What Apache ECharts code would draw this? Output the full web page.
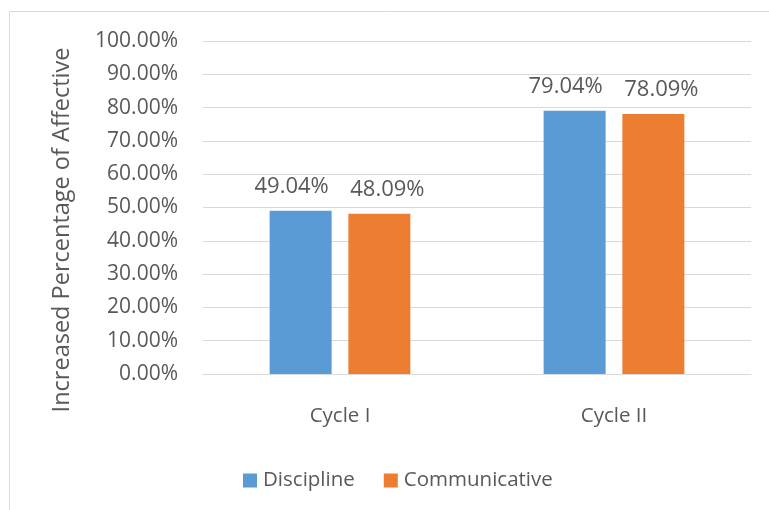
<!DOCTYPE html>
<html>
<head>
<meta charset="utf-8">
<script src="https://cdn.jsdelivr.net/npm/echarts@6/dist/echarts.min.js"></script>
<style>
html,body{margin:0;padding:0;background:#fff;}
#c{width:769px;height:510px;}
</style>
</head>
<body>
<div id="c"></div>
<script>
const categories = ['Cycle I', 'Cycle II'];
const discipline = [49.04, 79.04];
const communicative = [48.09, 78.09];
const seriesNames = ['Discipline', 'Communicative'];
const yAxisTitle = 'Increased Percentage of Affective';

const FONT = '"Open Sans", sans-serif';
const TXT = '#595959';
const chart = echarts.init(document.getElementById('c'), null, {renderer: 'canvas'});
function labelCfg(dx) {
  return {
    show: true, position: 'top', distance: 13, offset: [dx, 0],
    color: TXT, fontFamily: FONT, fontSize: 22,
    formatter: p => p.value.toFixed(2) + '%'
  };
}
chart.setOption({
  animation: false,
  backgroundColor: '#fff',
  grid: {left: 203, right: 18, top: 41, bottom: 136, containLabel: false},
  graphic: [
    {type: 'rect', shape: {x: 9.5, y: 11.5, width: 900, height: 700}, style: {fill: 'none', stroke: '#d9d9d9', lineWidth: 1}, silent: true, z: -1},
    {type: 'text', x: 62, y: 230, rotation: Math.PI / 2,
     style: {text: yAxisTitle, fill: TXT, font: '23.5px "Open Sans", sans-serif', textAlign: 'center', textVerticalAlign: 'middle'}}
  ],
  legend: {
    data: seriesNames, left: 238, top: 465, icon: 'rect', itemWidth: 14, itemHeight: 14, itemGap: 29,
    textStyle: {color: TXT, fontFamily: FONT, fontSize: 20.5, padding: [0, 0, 0, 1]}
  },
  xAxis: {
    type: 'category', data: categories,
    axisLine: {show: true, lineStyle: {color: '#d9d9d9'}},
    axisTick: {show: false},
    axisLabel: {color: TXT, fontFamily: FONT, fontSize: 20.5, margin: 32}
  },
  yAxis: {
    type: 'value', min: 0, max: 100, interval: 10,
    axisLine: {show: false}, axisTick: {show: false},
    splitLine: {lineStyle: {color: '#d9d9d9', width: 1}},
    axisLabel: {color: TXT, fontFamily: FONT, fontSize: 21, margin: 25, formatter: v => v.toFixed(2) + '%'}
  },
  series: [
    {name: seriesNames[0], type: 'bar', data: discipline, itemStyle: {color: '#5b9bd5'}, barWidth: 62, barGap: '27%', label: labelCfg(-9)},
    {name: seriesNames[1], type: 'bar', data: communicative, itemStyle: {color: '#ed7d31'}, barWidth: 62, barGap: '27%', label: labelCfg(8)}
  ]
});
</script>
</body>
</html>
